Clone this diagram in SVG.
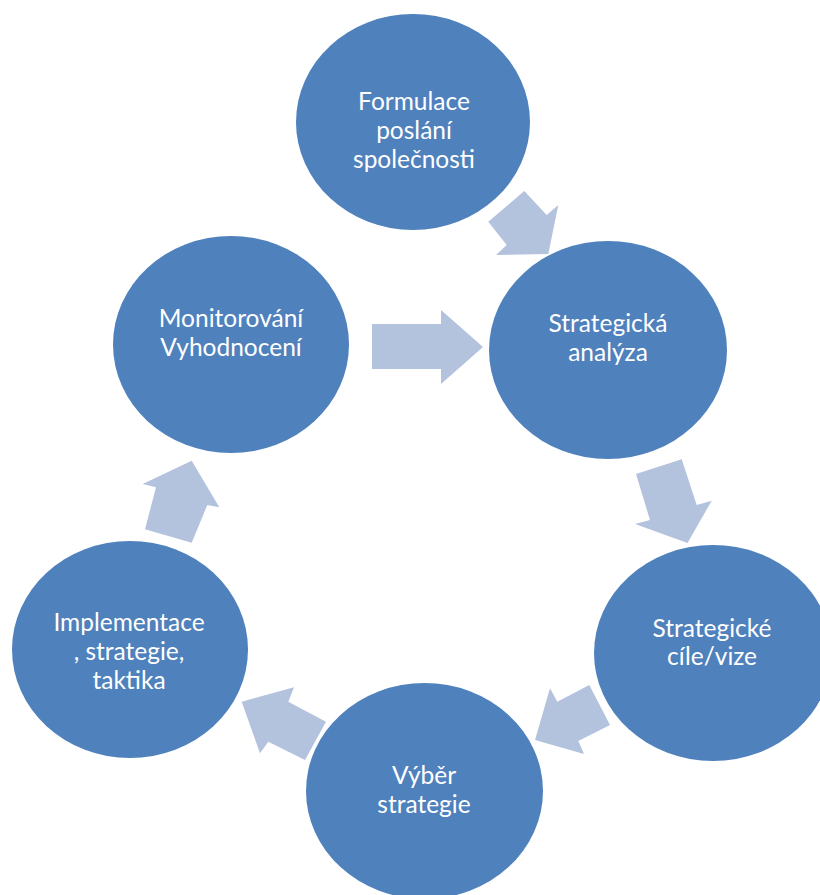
<svg xmlns="http://www.w3.org/2000/svg" width="820" height="895" viewBox="0 0 820 895">
<style>
.node{fill:#4F81BD}
.lbl{font-family:Lato,"Open Sans","Liberation Sans",sans-serif;font-size:24.5px;fill:#FFFFFF;text-anchor:middle}
.arr{fill:#B3C2DD}
</style>
<rect width="820" height="895" fill="#FFFFFF"/>
<g id="connectors">
<polygon class="arr" points="524.3,191 546.7,215 558.3,205 548.3,254 496,255 506.7,245 488.3,221.7"/>
<polygon class="arr" points="372,324 441,324 441,310 483,347 441,384 441,369 372,369"/>
<polygon class="arr" points="636,474 681.7,459.3 696.7,505 711.7,500.7 687.5,543 635,524 650,520"/>
<polygon class="arr" points="589.3,685 610,725 578.3,741 584,754 535,740 550,688.3 557.3,701.7"/>
<polygon class="arr" points="241.7,701.7 294,687.3 288.3,701.7 326,721.7 305,760 268.3,741.7 260,753.3"/>
<polygon class="arr" points="191.7,460.7 219.3,507.3 207.3,505 191.7,542.7 145,529.3 156,487.3 142.7,484"/>
</g>
<g id="formulace">
<ellipse class="node" cx="413" cy="122" rx="117" ry="108"/>
<text class="lbl" x="414" y="110">Formulace</text>
<text class="lbl" x="414" y="139">poslání</text>
<text class="lbl" x="414" y="168">společnosti</text>
</g>
<g id="analyza">
<ellipse class="node" cx="608" cy="350" rx="119" ry="109"/>
<text class="lbl" x="608" y="332">Strategická</text>
<text class="lbl" x="608" y="361">analýza</text>
</g>
<g id="cile">
<ellipse class="node" cx="713" cy="653" rx="119" ry="108"/>
<text class="lbl" x="712" y="637">Strategické</text>
<text class="lbl" x="712" y="665">cíle/vize</text>
</g>
<g id="vyber">
<ellipse class="node" cx="424.5" cy="791" rx="118.5" ry="108"/>
<text class="lbl" x="424" y="784">Výběr</text>
<text class="lbl" x="424" y="813">strategie</text>
</g>
<g id="implementace">
<ellipse class="node" cx="130" cy="649.5" rx="118" ry="108.5"/>
<text class="lbl" x="129" y="631">Implementace</text>
<text class="lbl" x="129" y="660">, strategie,</text>
<text class="lbl" x="129" y="689">taktika</text>
</g>
<g id="monitorovani">
<ellipse class="node" cx="231" cy="344.5" rx="118" ry="108.5"/>
<text class="lbl" x="231" y="327">Monitorování</text>
<text class="lbl" x="231" y="356">Vyhodnocení</text>
</g>
</svg>
